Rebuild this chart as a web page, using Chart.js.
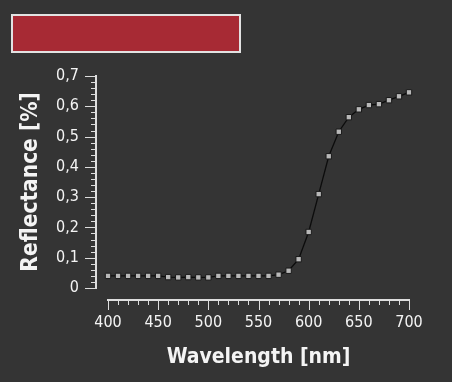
<!DOCTYPE html>
<html>
<head>
<meta charset="utf-8">
<script src="https://cdn.jsdelivr.net/npm/chart.js@4"></script>
<style>
html, body { margin: 0; padding: 0; background: #343434; }
#wrap { position: relative; width: 452px; height: 382px; }
#swatch { position: absolute; left: 11px; top: 14px; width: 226px; height: 35px; background: #a72a34; border: 2px solid #e2e2e2; }
</style>
</head>
<body>
<div id="wrap">
    <canvas id="chart" width="452" height="382"></canvas>
    <div id="swatch"></div>
</div>
<script>
// wavelength (nm) and measured reflectance
const wavelengths = [400, 410, 420, 430, 440, 450, 460, 470, 480, 490, 500, 510, 520, 530, 540, 550,
    560, 570, 580, 590, 600, 610, 620, 630, 640, 650, 660, 670, 680, 690, 700]
const reflectance = [0.040, 0.040, 0.040, 0.040, 0.040, 0.040, 0.036, 0.035, 0.036, 0.035, 0.035, 0.040,
    0.040, 0.040, 0.040, 0.040, 0.040, 0.044, 0.057, 0.095, 0.185, 0.310, 0.435, 0.516, 0.564,
    0.590, 0.604, 0.607, 0.620, 0.633, 0.646]

const xTickValues = [400, 450, 500, 550, 600, 650, 700]
const yTickValues = [0, 0.1, 0.2, 0.3, 0.4, 0.5, 0.6, 0.7]

const textColor = '#f4f4f4'
const axisColor = '#dedede'
const family = "'DejaVu Sans Condensed', 'DejaVu Sans'"
const tickFont = { family, size: 16 }

// axes drawn slightly away from the plot, with minor ticks
const offsetAxes = {
    id: 'offsetAxes',
    afterDraw(chart) {
        const { ctx, chartArea, scales: { x, y } } = chart
        const ay = chartArea.bottom + 12
        const ax = chartArea.left - 12
        ctx.save()
        ctx.strokeStyle = axisColor
        ctx.lineWidth = 2
        ctx.beginPath()
        ctx.moveTo(x.getPixelForValue(400) - 1, ay)
        ctx.lineTo(x.getPixelForValue(700) + 1, ay)
        ctx.moveTo(ax, y.getPixelForValue(0.7) - 1)
        ctx.lineTo(ax, y.getPixelForValue(0) + 1)
        ctx.stroke()

        ctx.lineWidth = 1
        ctx.beginPath()
        for (let i = 0; i <= 30; i++) {
            const px = Math.round(x.getPixelForValue(400 + i * 10)) + 0.5
            ctx.moveTo(px, ay)
            ctx.lineTo(px, ay + (i % 5 === 0 ? 10 : 5))
        }
        for (let i = 0; i <= 35; i++) {
            const py = Math.round(y.getPixelForValue(i * 0.02)) + 0.5
            ctx.moveTo(ax, py)
            ctx.lineTo(ax - (i % 5 === 0 ? 11 : 5), py)
        }
        ctx.stroke()
        ctx.restore()
    }
}

new Chart(document.getElementById('chart'), {
    type: 'line',
    data: {
        labels: wavelengths,
        datasets: [{
            data: wavelengths.map((w, i) => ({ x: w, y: reflectance[i] })),
            clip: false,
            borderColor: '#0c0c0c',
            borderWidth: 1.3,
            tension: 0,
            pointStyle: 'rect',
            pointRadius: 3.8,
            pointBackgroundColor: '#b8b8b8',
            pointBorderColor: '#1a1a1a',
            pointBorderWidth: 1
        }]
    },
    options: {
        responsive: false,
        devicePixelRatio: 1,
        animation: false,
        events: [],
        layout: { padding: { top: 76, right: 43, left: 0, bottom: 0 } },
        plugins: { legend: { display: false }, tooltip: { enabled: false } },
        scales: {
            x: {
                type: 'linear',
                min: 400,
                max: 700,
                afterFit: (s) => { s.height = 94 },
                afterBuildTicks: (s) => { s.ticks = xTickValues.map(v => ({ value: v })) },
                grid: { display: false, drawTicks: false },
                border: { display: false },
                ticks: { color: textColor, font: tickFont, padding: 25, maxRotation: 0 },
                title: { display: true, text: 'Wavelength [nm]', color: textColor, font: { family, size: 21, weight: 'bold' }, padding: { top: 0, bottom: 12 } }
            },
            y: {
                min: 0,
                max: 0.7,
                afterFit: (s) => { s.width = 108 },
                afterBuildTicks: (s) => { s.ticks = yTickValues.map(v => ({ value: v })) },
                grid: { display: false, drawTicks: false },
                border: { display: false },
                ticks: {
                    color: textColor, font: tickFont, padding: 29,
                    callback: (v) => v === 0 ? '0' : v.toFixed(1).replace('.', ',')
                },
                title: { display: true, text: 'Reflectance [%]', color: textColor, font: { family, size: 22.5, weight: 'bold' }, padding: { top: 18, bottom: 0 } }
            }
        }
    },
    plugins: [offsetAxes]
})
</script>
</body>
</html>
